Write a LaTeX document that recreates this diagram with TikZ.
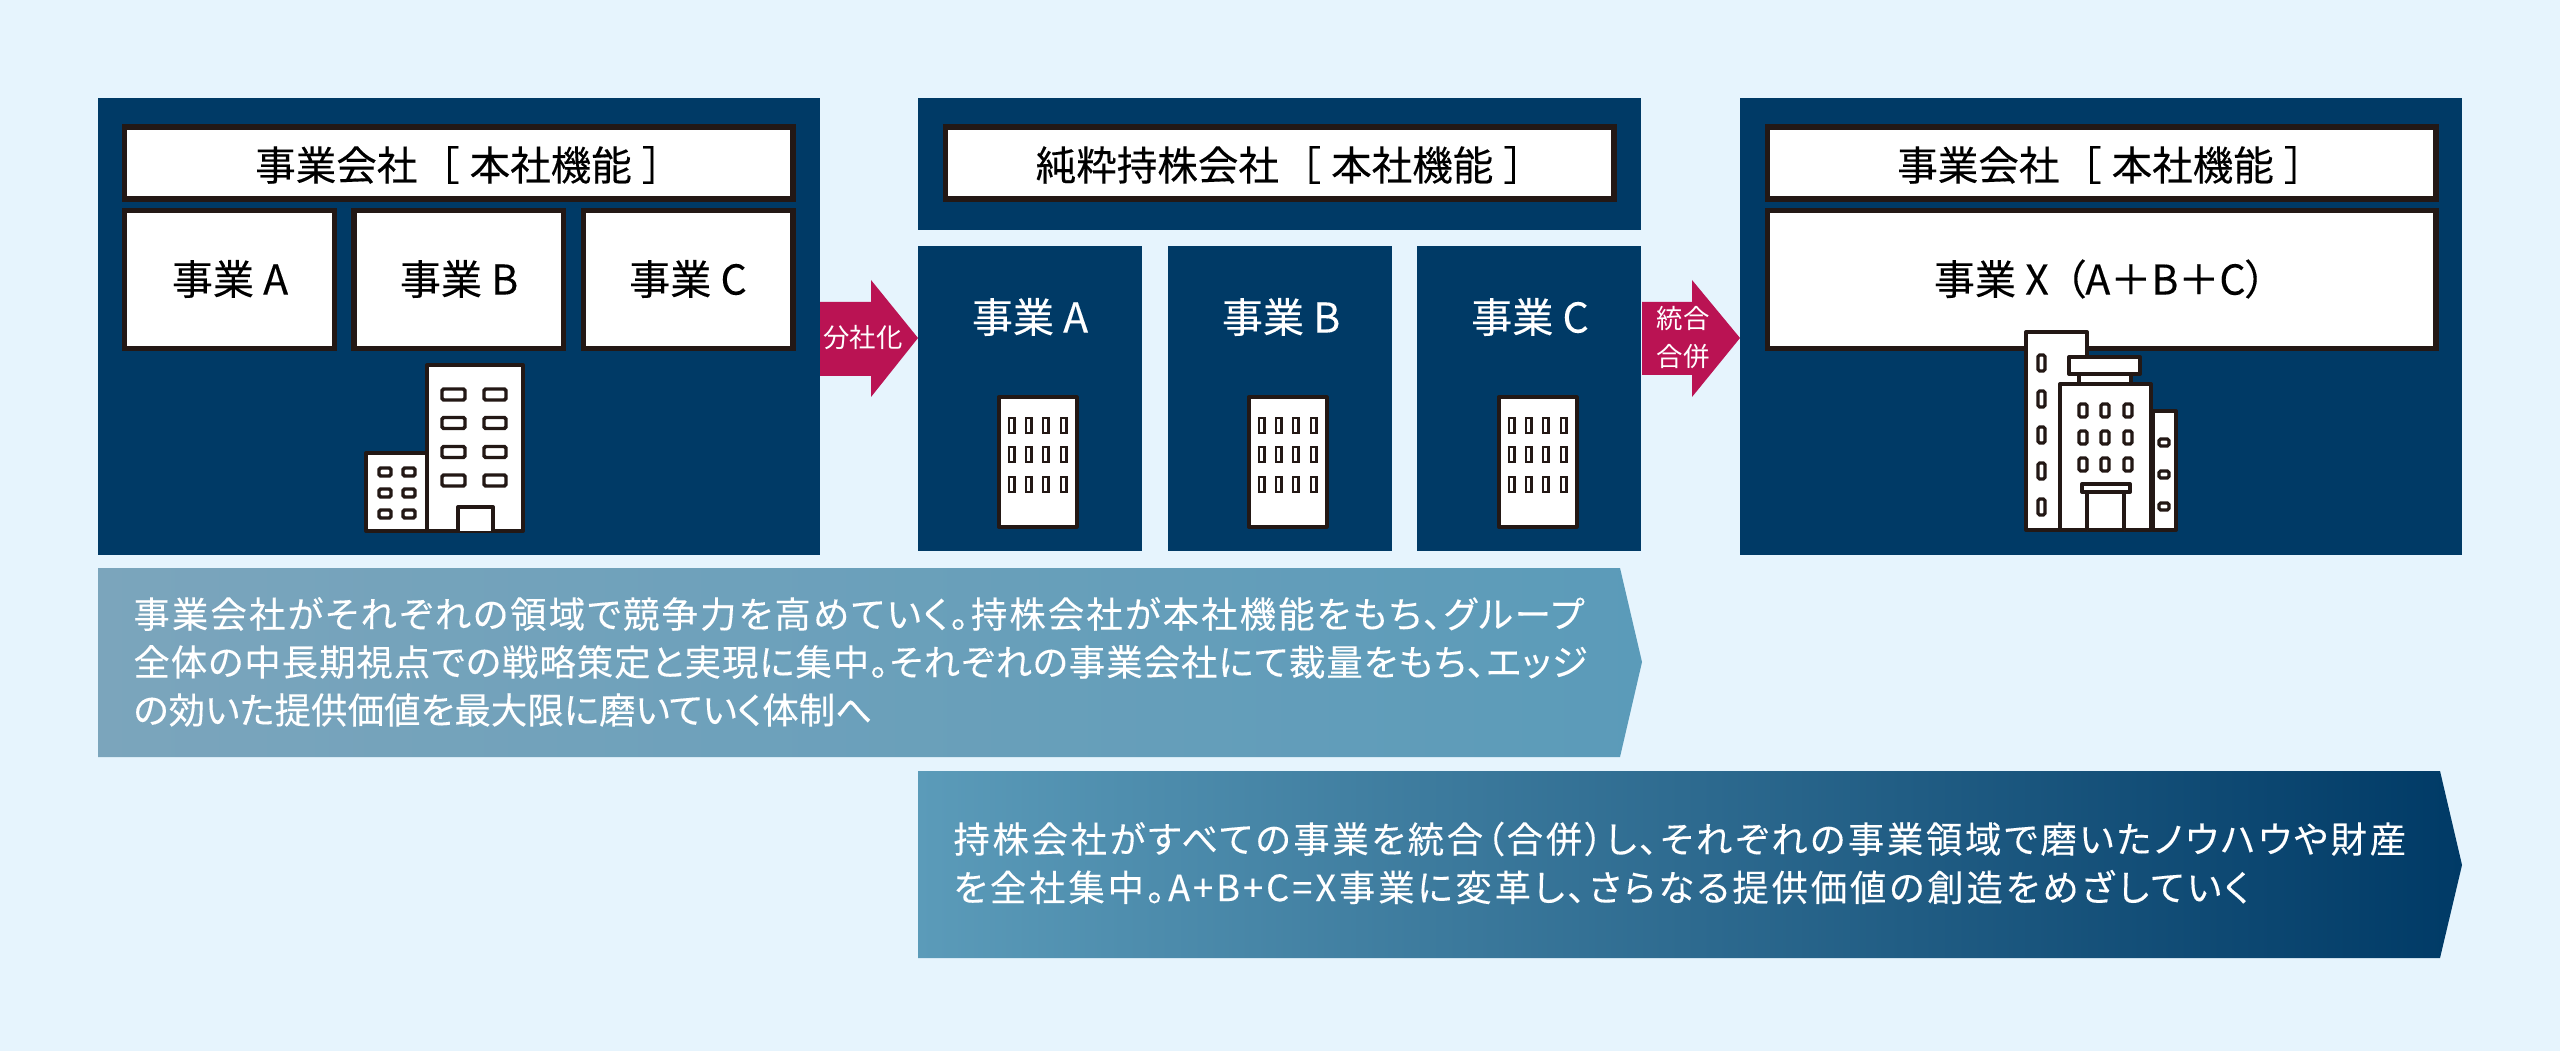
\documentclass[tikz,border=0pt]{standalone}
\usepackage{fontspec}
\setmainfont{Noto Sans CJK JP}[RawFeature=+palt]
\definecolor{bgc}{HTML}{E6F4FD}
\definecolor{navy}{HTML}{003A66}
\definecolor{inkc}{HTML}{231815}
\definecolor{mag}{HTML}{BA1353}
\definecolor{ga}{HTML}{7BA5BC}
\definecolor{gb}{HTML}{5B9BB9}
\newcommand{\ls}[2]{{\addfontfeature{LetterSpace=#1}#2}}
\tikzset{
 panel/.style={fill=navy,draw=none},
 wbox/.style={fill=white,draw=inkc,line width=1.95pt},
 bld/.style={fill=white,draw=inkc,line width=1.5pt,line join=round},
 win/.style={fill=white,draw=inkc,line width=1.3pt,rounded corners=0.6pt},
 swin/.style={fill=white,draw=inkc,line width=1pt},
 title/.style={font=\fontsize{15.2pt}{18pt}\selectfont\addfontfeature{FakeBold=0.25},text=black,inner sep=0pt},
 big/.style={font=\fontsize{15.4pt}{18pt}\selectfont\addfontfeature{FakeBold=0.25},text=black,inner sep=0pt},
 wbig/.style={font=\fontsize{15.4pt}{18pt}\selectfont\addfontfeature{FakeBold=0.25},text=white,inner sep=0pt},
 para/.style={font=\fontsize{13.6pt}{18pt}\selectfont\addfontfeature{FakeBold=0.2},text=white,inner sep=0pt,anchor=west},
 arrowl/.style={font=\fontsize{9.9pt}{12pt}\selectfont,text=white,inner sep=0pt},
}
\begin{document}
\begin{tikzpicture}[x=0.375pt,y=-0.375pt]
\useasboundingbox (0,0) rectangle (2560,1051);
\fill[bgc] (0,0) rectangle (2560,1051);
% panels
\fill[panel] (98,98) rectangle (820,555);
\fill[panel] (918,98) rectangle (1641,230);
\fill[panel] (918,246) rectangle (1142,551);
\fill[panel] (1168,246) rectangle (1392,551);
\fill[panel] (1417,246) rectangle (1641,551);
\fill[panel] (1740,98) rectangle (2462,555);
% banners
\path[left color=ga,right color=gb] (98,568) -- (1620,568) -- (1642,662) -- (1620,757) -- (98,757) -- cycle;
\path[left color=gb,right color=navy] (918,771) -- (2440,771) -- (2462,865) -- (2440,958) -- (918,958) -- cycle;
% arrows
\fill[mag] (820,302) -- (871,302) -- (871,280) -- (918,338) -- (871,397) -- (871,376) -- (820,376) -- cycle;
\fill[mag] (1642,302) -- (1692,302) -- (1692,280) -- (1740,338) -- (1692,397) -- (1692,375) -- (1642,375) -- cycle;
% boxes
\draw[wbox] (124.5,127) rectangle (793,199);
\node[title] (t1) at (459,165) {事業会社\hspace{8pt}［\hspace{4pt}本社機能\hspace{4pt}］};
\draw[wbox] (124.5,210.5) rectangle (334.5,348.5);
\draw[wbox] (354,210.5) rectangle (563.5,348.5);
\draw[wbox] (583.5,210.5) rectangle (793,348.5);
\node[big] (a1) at (230,279) {事業 A};
\node[big] (b1) at (459,279) {事業 B};
\node[big] (c1) at (688,279) {事業 C};
\draw[wbox] (945.5,127) rectangle (1614,199);
\node[title] (t2) at (1280,165) {純粋持株会社\hspace{8pt}［\hspace{4pt}本社機能\hspace{4pt}］};
\node[wbig] (a2) at (1030,317) {事業 A};
\node[wbig] (b2) at (1281,317) {事業 B};
\node[wbig] (c2) at (1530,317) {事業 C};
\draw[wbox] (1767.5,127) rectangle (2436,199);
\node[title] (t3) at (2101,165) {事業会社\hspace{8pt}［\hspace{4pt}本社機能\hspace{4pt}］};
\draw[wbox] (1767.5,210.5) rectangle (2436,348.5);
\node[big] (x3) at (2100,279) {事業 X\hspace{6pt}（A＋B＋C）};
% arrow labels
\node[arrowl] (l1) at (863,338) {分社化};
\node[arrowl] (l2a) at (1683,319) {統合};
\node[arrowl] (l2b) at (1683,357) {合併};
% building 1
\draw[bld] (427,365) rectangle (523,531);
\draw[bld] (366,453) rectangle (427,531);
\foreach \y in {389,417.5,446.5,475}{
 \draw[win] (442,\y) rectangle (465,\y+11);
 \draw[win] (484,\y) rectangle (506,\y+11);
}
\foreach \y in {468,489,510}{
 \draw[win] (379,\y) rectangle (391,\y+8);
 \draw[win] (403,\y) rectangle (415,\y+8);
}
\draw[bld] (458,531) -- (458,507) -- (493,507) -- (493,531);
% small buildings
\foreach \bx in {998,1248,1498}{
 \draw[bld] (\bx+0.5,397.5) rectangle (\bx+78.5,526.5);
 \foreach \y in {418,447,477}{
  \foreach \dx in {11,28,45,63}{
   \draw[swin] (\bx+\dx,\y) rectangle (\bx+\dx+5.5,\y+15);
  }
 }
}
% building 3
\draw[bld] (2153,411) rectangle (2176,530);
\draw[bld] (2026,332) rectangle (2087,530);
\draw[bld] (2079,373) rectangle (2131,384);
\draw[bld] (2069,357) rectangle (2140,374);
\draw[bld] (2060,384) rectangle (2151,530);
\foreach \y in {355,391,427,463,499}{
 \draw[win,line width=1.2pt] (2038,\y) rectangle (2045,\y+16);
}
\foreach \y in {404,431,458}{
 \foreach \x in {2079,2101,2124}{
  \draw[win,line width=1.2pt] (\x,\y) rectangle (\x+8,\y+13);
 }
}
\foreach \y in {439,471,503}{
 \draw[win,line width=1.2pt] (2159,\y) rectangle (2169,\y+7);
}
\draw[bld] (2082,484) rectangle (2130,492);
\draw[bld] (2087,492) -- (2087,530);
\draw[bld] (2124,492) -- (2124,530);
% paragraphs
\node[para] (p1) at (133,614) {\ls{6.2}{事業会社がそれぞれの領域で競争力を高めていく。持株会社が本社機能をもち、グループ}};
\node[para] (p2) at (133,662) {\ls{3.1}{全体の中長期視点での戦略策定と実現に集中。それぞれの事業会社にて裁量をもち、エッジ}};
\node[para] (p3) at (133,710) {\ls{0.7}{の効いた提供価値を最大限に磨いていく体制へ}};
\node[para] (q1) at (953,839) {\ls{7.7}{持株会社がすべての事業を統合（合併）し、それぞれの事業領域で磨いたノウハウや財産}};
\node[para] (q2) at (953,887) {\ls{8.2}{を全社集中。A+B+C=X事業に変革し、さらなる提供価値の創造をめざしていく}};
\end{tikzpicture}
\end{document}
